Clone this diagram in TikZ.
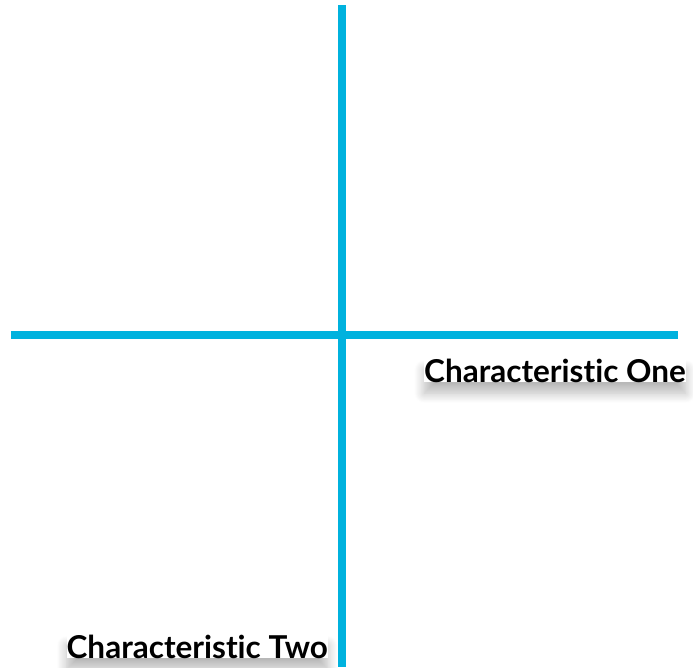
\documentclass[tikz,border=0pt]{standalone}
\usepackage{fontspec}
\newfontfamily\labelfont{Lato}[Ligatures=NoCommon]
\usetikzlibrary{positioning, shadows.blur}
\definecolor{axisblue}{HTML}{00B2DE}
\tikzstyle{axis} = [line width=8pt, draw=axisblue]
\tikzstyle{caption} = [font=\labelfont\bfseries\fontsize{31.5}{36}\selectfont, inner sep=0pt, fill=white, blur shadow={shadow xshift=0pt, shadow yshift=-11pt, shadow blur radius=10pt, shadow blur steps=12, shadow opacity=28}]

\begin{document}
\begin{tikzpicture}[x=1pt, y=-1pt]
        \useasboundingbox (0,0) rectangle (693,667);
        % Axis ends
        \coordinate (top) at (342,5);
        \coordinate (bottom) at (342,667);
        \coordinate (left) at (11,335);
        \coordinate (right) at (678,335);

        % Axes
        \draw [axis] (top) -- (bottom);
        \draw [axis] (left) -- (right);

        % Labels
        \node (one) [caption, anchor=base east] at (686,382) {Characteristic One};
        \node (two) [caption, anchor=base east] at (328,658) {Characteristic Two};
    \end{tikzpicture}
\end{document}
